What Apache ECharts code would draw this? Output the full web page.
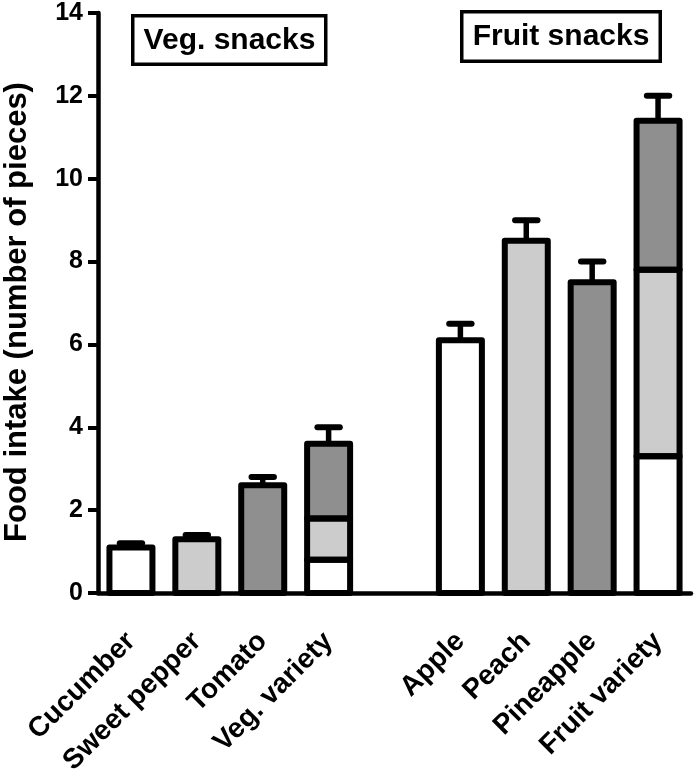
<!DOCTYPE html>
<html>
<head>
<meta charset="utf-8">
<script src="https://cdn.jsdelivr.net/npm/echarts@6/dist/echarts.min.js"></script>
<style>
html,body{margin:0;padding:0;background:#fff;}
#chart{width:697px;height:769px;}
</style>
</head>
<body>
<div id="chart"></div>
<script>
// Categories (empty string = gap between groups)
const categories = ['Cucumber', 'Sweet pepper', 'Tomato', 'Veg. variety', '', 'Apple', 'Peach', 'Pineapple', 'Fruit variety'];
// Stacked segments (white / light grey / dark grey)
const whiteSeg = [1.1, '-', '-', 0.8, '-', 6.1, '-', '-', 3.3];
const lightSeg = ['-', 1.3, '-', 1.0, '-', '-', 8.5, '-', 4.5];
const darkSeg  = ['-', '-', 2.6, 1.8, '-', '-', '-', 7.5, 3.6];
// Upward error (SEM)
const errors   = [0.1, 0.1, 0.2, 0.4, '-', 0.4, 0.5, 0.5, 0.6];
// Y axis ticks
const yMin = 0, yMax = 14, yInterval = 2;
const yTitle = 'Food intake (number of pieces)';
const groupLabels = ['Veg. snacks', 'Fruit snacks'];

const FONT = '"Liberation Sans", Arial, sans-serif';
const BAR_W = 43;
const segArrays = [whiteSeg, lightSeg, darkSeg];
// outline segments [index, base, top]
const outlineData = [];
const totals = categories.map((c, i) => {
  let base = 0;
  segArrays.forEach(arr => {
    if (arr[i] !== '-') { outlineData.push([i, base, base + arr[i]]); base += arr[i]; }
  });
  return base > 0 ? base : '-';
});
const errData = [];
categories.forEach((c, i) => {
  if (totals[i] !== '-' && errors[i] !== '-') errData.push([i, totals[i], errors[i]]);
});

const chart = echarts.init(document.getElementById('chart'), null, {renderer: 'canvas'});
const barCommon = {
  type: 'bar', stack: 'total', barWidth: BAR_W, animation: false,
  emphasis: {disabled: true}, z: 2
};

const option = {
  animation: false,
  backgroundColor: '#fff',
  grid: {left: 98, right: 6, top: 13, bottom: 176, containLabel: false, outerBoundsMode: 'none'},
  xAxis: {
    type: 'category',
    data: categories,
    axisLine: {lineStyle: {color: '#000', width: 4.5}},
    axisTick: {alignWithLabel: true, length: 12, lineStyle: {color: '#000', width: 4}},
    axisLabel: {
      interval: 0, rotate: 45, margin: 44, verticalAlign: 'middle',
      color: '#000', fontFamily: FONT, fontWeight: 'bold', fontSize: 28
    },
    splitLine: {show: false}
  },
  yAxis: {
    type: 'value',
    min: yMin, max: yMax, interval: yInterval,
    name: yTitle, nameLocation: 'middle', nameGap: 65, nameRotate: 90,
    nameTextStyle: {color: '#000', fontFamily: FONT, fontWeight: 'bold', fontSize: 31, padding: [0, 18, 0, 0]},
    axisLine: {show: true, lineStyle: {color: '#000', width: 4.5}},
    axisTick: {show: true, length: 10, lineStyle: {color: '#000', width: 4}},
    axisLabel: {margin: 15, color: '#000', fontFamily: FONT, fontWeight: 'bold', fontSize: 25},
    splitLine: {show: false}
  },
  graphic: [
    {type: 'group', left: 131, top: 14, children: [
      {type: 'rect', shape: {x: 1.75, y: 1.75, width: 193, height: 48.5},
       style: {fill: '#fff', stroke: '#000', lineWidth: 3.5}},
      {type: 'text', x: 98.5, y: 27, style: {text: groupLabels[0], fill: '#000',
        font: 'bold 30px ' + FONT, textAlign: 'center', textVerticalAlign: 'middle'}}
    ]},
    {type: 'group', left: 460, top: 10, children: [
      {type: 'rect', shape: {x: 1.75, y: 1.75, width: 198.5, height: 49.5},
       style: {fill: '#fff', stroke: '#000', lineWidth: 3.5}},
      {type: 'text', x: 101, y: 27, style: {text: groupLabels[1], fill: '#000',
        font: 'bold 30px ' + FONT, textAlign: 'center', textVerticalAlign: 'middle'}}
    ]}
  ],
  series: [
    Object.assign({name: 'white', data: whiteSeg, itemStyle: {color: '#ffffff', borderWidth: 0}}, barCommon),
    Object.assign({name: 'light', data: lightSeg, itemStyle: {color: '#cccccc', borderWidth: 0}}, barCommon),
    Object.assign({name: 'dark', data: darkSeg, itemStyle: {color: '#8f8f8f', borderWidth: 0}}, barCommon),
    {
      type: 'custom', name: 'err', data: errData, z: 3, animation: false,
      renderItem: function (params, api) {
        const xi = api.value(0), top = api.value(1), e = api.value(2);
        const p0 = api.coord([xi, top]);
        const p1 = api.coord([xi, top + e]);
        const half = api.size([1, 0])[0] * 0.17;
        return {type: 'group', children: [
          {type: 'line', shape: {x1: p0[0], y1: p0[1], x2: p1[0], y2: p1[1]}, style: {stroke: '#000', lineWidth: 5.5}},
          {type: 'line', shape: {x1: p1[0] - half, y1: p1[1], x2: p1[0] + half, y2: p1[1]},
           style: {stroke: '#000', lineWidth: 6, lineCap: 'round'}}
        ]};
      }
    },
    {
      type: 'custom', name: 'outline', data: outlineData, z: 4, animation: false,
      renderItem: function (params, api) {
        const xi = api.value(0), b = api.value(1), t = api.value(2);
        const pb = api.coord([xi, b]);
        const pt = api.coord([xi, t]);
        return {type: 'rect',
          shape: {x: pb[0] - BAR_W / 2, y: pt[1], width: BAR_W, height: pb[1] - pt[1]},
          style: {fill: null, stroke: '#000', lineWidth: 6, lineJoin: 'round'}};
      }
    }
  ]
};
chart.setOption(option);
</script>
</body>
</html>
